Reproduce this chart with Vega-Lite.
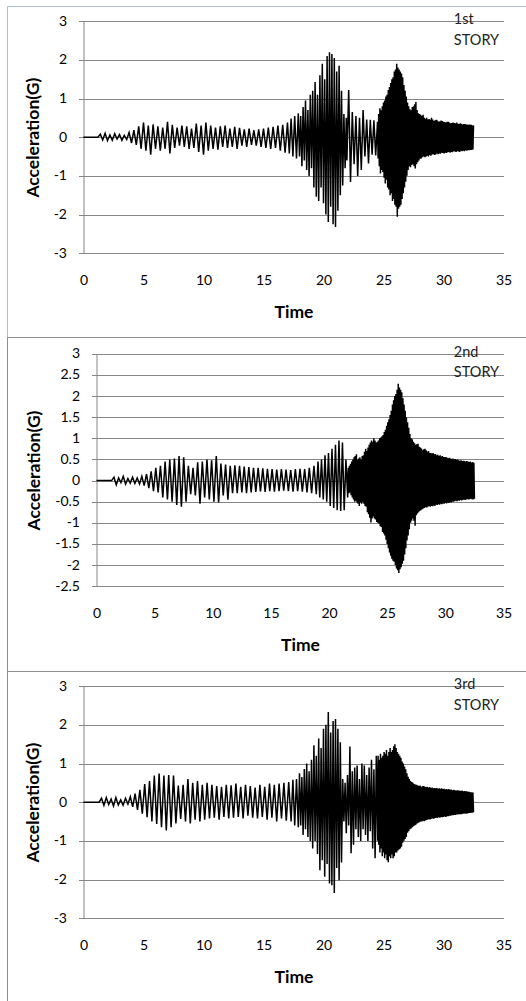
{
"$schema": "https://vega.github.io/schema/vega-lite/v6.json",
"background": "white",
"padding": {"left": 6, "top": 5, "right": 0, "bottom": 0},
"spacing": 0,
"bounds": "flush",
"config": {
  "font": "Lato",
  "axis": {"labelFont": "Lato", "labelFontSize": 14, "labelColor": "#000000", "titleFont": "Lato", "titleFontSize": 17.5, "titleFontWeight": "bold", "titleColor": "#000000", "gridColor": "#868686", "domainColor": "#868686", "tickColor": "#868686", "labelOverlap": false},
  "axisX": {"grid": false, "domain": false, "ticks": false, "tickSize": 0, "labelPadding": 20, "titlePadding": 16, "labelFlush": false, "tickCount": 20},
  "axisY": {"grid": true, "domain": true, "ticks": true, "tickSize": 5, "labelPadding": 12, "titlePadding": 11, "tickCount": 20}
},
"datasets": {
"p1": [{"t":0,"a":0},{"t":1.2,"a":0},{"t":1.4,"a":0.08},{"t":1.6,"a":-0.07},{"t":1.8,"a":0.1},{"t":2,"a":-0.09},{"t":2.2,"a":0.06},{"t":2.4,"a":-0.08},{"t":2.6,"a":0.09},{"t":2.8,"a":-0.05},{"t":3,"a":0.07},{"t":3.2,"a":-0.08},{"t":3.4,"a":0.05},{"t":3.6,"a":-0.06},{"t":3.8,"a":0.12},{"t":4,"a":-0.15},{"t":4.2,"a":0.18},{"t":4.4,"a":-0.2},{"t":4.6,"a":0.28},{"t":4.8,"a":-0.3},{"t":5,"a":0.38},{"t":5.2,"a":-0.35},{"t":5.4,"a":0.3},{"t":5.6,"a":-0.45},{"t":5.8,"a":0.33},{"t":6,"a":-0.3},{"t":6.2,"a":0.28},{"t":6.4,"a":-0.35},{"t":6.6,"a":0.25},{"t":6.8,"a":-0.3},{"t":7,"a":0.4},{"t":7.2,"a":-0.42},{"t":7.4,"a":0.32},{"t":7.6,"a":-0.28},{"t":7.8,"a":0.25},{"t":8,"a":-0.22},{"t":8.2,"a":0.3},{"t":8.4,"a":-0.25},{"t":8.6,"a":0.28},{"t":8.8,"a":-0.3},{"t":9,"a":0.22},{"t":9.2,"a":-0.28},{"t":9.4,"a":0.35},{"t":9.6,"a":-0.38},{"t":9.8,"a":0.3},{"t":10,"a":-0.45},{"t":10.2,"a":0.38},{"t":10.4,"a":-0.35},{"t":10.6,"a":0.3},{"t":10.8,"a":-0.3},{"t":11,"a":0.25},{"t":11.2,"a":-0.32},{"t":11.4,"a":0.28},{"t":11.6,"a":-0.25},{"t":11.8,"a":0.3},{"t":12,"a":-0.28},{"t":12.2,"a":0.22},{"t":12.4,"a":-0.25},{"t":12.6,"a":0.27},{"t":12.8,"a":-0.3},{"t":13,"a":0.24},{"t":13.2,"a":-0.22},{"t":13.4,"a":0.2},{"t":13.6,"a":-0.25},{"t":13.8,"a":0.22},{"t":14,"a":-0.2},{"t":14.2,"a":0.18},{"t":14.4,"a":-0.22},{"t":14.6,"a":0.2},{"t":14.8,"a":-0.25},{"t":15,"a":0.22},{"t":15.2,"a":-0.28},{"t":15.4,"a":0.25},{"t":15.6,"a":-0.3},{"t":15.8,"a":0.27},{"t":16,"a":-0.28},{"t":16.2,"a":0.3},{"t":16.4,"a":-0.35},{"t":16.6,"a":0.32},{"t":16.8,"a":-0.4},{"t":17,"a":0.38},{"t":17.15,"a":-0.42},{"t":17.3,"a":0.48},{"t":17.45,"a":-0.5},{"t":17.6,"a":0.55},{"t":17.75,"a":-0.55},
{"t":17.9,"a":0.62},{"t":18,"a":-0.5},{"t":18.1,"a":0.55},{"t":18.2,"a":-0.75},{"t":18.3,"a":0.78},{"t":18.4,"a":-0.6},{"t":18.5,"a":0.95},{"t":18.6,"a":-0.85},{"t":18.7,"a":0.7},{"t":18.8,"a":-1.0},{"t":18.9,"a":1.1},{"t":19,"a":-0.8},{"t":19.1,"a":1.2},{"t":19.2,"a":-1.3},{"t":19.3,"a":1.43},{"t":19.4,"a":-1.54},{"t":19.5,"a":1.1},{"t":19.6,"a":-1.65},{"t":19.7,"a":1.6},{"t":19.8,"a":-1.3},{"t":19.9,"a":1.9},{"t":20,"a":-1.71},{"t":20.1,"a":1.5},{"t":20.2,"a":-2.0},{"t":20.3,"a":2.1},{"t":20.4,"a":-2.19},{"t":20.5,"a":2.2},{"t":20.6,"a":-1.8},{"t":20.7,"a":2.15},{"t":20.8,"a":-2.25},{"t":20.9,"a":2.05},{"t":21,"a":-2.32},{"t":21.1,"a":1.7},{"t":21.2,"a":-1.9},{"t":21.3,"a":1.85},{"t":21.4,"a":-1.5},{"t":21.5,"a":1.2},{"t":21.6,"a":-1.25},{"t":21.7,"a":0.6},{"t":21.8,"a":-0.8},{"t":21.9,"a":0.5},
{"t":21.95,"a":-0.6},{"t":22.1,"a":1.22},{"t":22.25,"a":-1.16},{"t":22.4,"a":0.65},{"t":22.55,"a":-0.7},{"t":22.7,"a":0.55},{"t":22.85,"a":-1.0},{"t":23,"a":0.5},{"t":23.15,"a":-0.85},{"t":23.3,"a":0.7},{"t":23.45,"a":-0.5},{"t":23.6,"a":0.46},{"t":23.75,"a":-0.68},{"t":23.9,"a":0.45},{"t":24.05,"a":-0.45},{"t":24.2,"a":0.44},{"t":24.35,"a":-0.47},{"t":24.5,"a":0.4},
{"t":24.55,"a":-0.55},{"t":24.6,"a":0.6},{"t":24.65,"a":-0.75},{"t":24.7,"a":0.75},{"t":24.75,"a":-0.94},{"t":24.8,"a":0.7},{"t":24.85,"a":-0.85},{"t":24.9,"a":0.8},{"t":24.95,"a":-0.9},{"t":25,"a":0.9},{"t":25.05,"a":-1.05},{"t":25.1,"a":0.95},{"t":25.15,"a":-1.2},{"t":25.2,"a":1.05},{"t":25.25,"a":-1.1},{"t":25.3,"a":1.1},{"t":25.35,"a":-1.3},{"t":25.4,"a":1.22},{"t":25.45,"a":-1.35},{"t":25.5,"a":1.3},{"t":25.55,"a":-1.5},{"t":25.6,"a":1.4},{"t":25.65,"a":-1.45},{"t":25.7,"a":1.5},{"t":25.75,"a":-1.65},{"t":25.8,"a":1.55},{"t":25.85,"a":-1.6},{"t":25.9,"a":1.7},{"t":25.95,"a":-1.75},{"t":26,"a":1.75},{"t":26.05,"a":-1.8},{"t":26.1,"a":1.9},{"t":26.15,"a":-2.06},{"t":26.2,"a":1.8},{"t":26.25,"a":-1.85},{"t":26.3,"a":1.75},{"t":26.35,"a":-1.8},{"t":26.4,"a":1.7},{"t":26.45,"a":-1.75},{"t":26.5,"a":1.65},{"t":26.55,"a":-1.6},{"t":26.6,"a":1.55},{"t":26.65,"a":-1.45},{"t":26.7,"a":1.35},{"t":26.75,"a":-1.3},{"t":26.8,"a":1.2},{"t":26.85,"a":-1.15},{"t":26.9,"a":1.05},{"t":26.95,"a":-1.0},{"t":27,"a":0.9},{"t":27.05,"a":-0.85},{"t":27.1,"a":0.8},{"t":27.15,"a":-0.75},{"t":27.2,"a":0.72},{"t":27.25,"a":-0.78},{"t":27.3,"a":0.7},{"t":27.35,"a":-0.72},{"t":27.4,"a":0.78},{"t":27.45,"a":-0.7},{"t":27.5,"a":0.8},{"t":27.55,"a":-0.75},{"t":27.6,"a":0.85},{"t":27.65,"a":-0.81},{"t":27.7,"a":0.91},{"t":27.75,"a":-0.7},{"t":27.8,"a":0.7},{"t":27.85,"a":-0.65},{"t":27.9,"a":0.62},{"t":27.95,"a":-0.6},{"t":28,"a":0.6},{"t":28.05,"a":-0.56},{"t":28.1,"a":0.58},{"t":28.15,"a":-0.55},{"t":28.2,"a":0.55},{"t":28.25,"a":-0.52},{"t":28.3,"a":0.58},{"t":28.35,"a":-0.5},{"t":28.4,"a":0.5},{"t":28.45,"a":-0.52},{"t":28.5,"a":0.48},{"t":28.55,"a":-0.5},{"t":28.6,"a":0.5},{"t":28.65,"a":-0.48},{"t":28.7,"a":0.46},{"t":28.75,"a":-0.5},{"t":28.8,"a":0.47},{"t":28.85,"a":-0.46},{"t":28.9,"a":0.45},{"t":28.95,"a":-0.48},{"t":29,"a":0.5},{"t":29.05,"a":-0.45},{"t":29.1,"a":0.46},{"t":29.15,"a":-0.44},{"t":29.2,"a":0.42},{"t":29.25,"a":-0.46},{"t":29.3,"a":0.44},{"t":29.35,"a":-0.45},{"t":29.4,"a":0.45},{"t":29.45,"a":-0.42},{"t":29.5,"a":0.43},{"t":29.55,"a":-0.44},{"t":29.6,"a":0.4},{"t":29.65,"a":-0.42},{"t":29.7,"a":0.41},{"t":29.75,"a":-0.43},{"t":29.8,"a":0.43},{"t":29.85,"a":-0.4},{"t":29.9,"a":0.42},{"t":29.95,"a":-0.41},{"t":30,"a":0.4},{"t":30.05,"a":-0.42},{"t":30.1,"a":0.39},{"t":30.15,"a":-0.4},{"t":30.2,"a":0.38},{"t":30.25,"a":-0.41},{"t":30.3,"a":0.4},{"t":30.35,"a":-0.39},{"t":30.4,"a":0.4},{"t":30.45,"a":-0.38},{"t":30.5,"a":0.38},{"t":30.55,"a":-0.4},{"t":30.6,"a":0.36},{"t":30.65,"a":-0.38},{"t":30.7,"a":0.37},{"t":30.75,"a":-0.39},{"t":30.8,"a":0.38},{"t":30.85,"a":-0.36},{"t":30.9,"a":0.37},{"t":30.95,"a":-0.37},{"t":31,"a":0.36},{"t":31.05,"a":-0.38},{"t":31.1,"a":0.38},{"t":31.15,"a":-0.36},{"t":31.2,"a":0.35},{"t":31.25,"a":-0.37},{"t":31.3,"a":0.34},{"t":31.35,"a":-0.38},{"t":31.4,"a":0.36},{"t":31.45,"a":-0.35},{"t":31.5,"a":0.35},{"t":31.55,"a":-0.36},{"t":31.6,"a":0.33},{"t":31.65,"a":-0.35},{"t":31.7,"a":0.34},{"t":31.75,"a":-0.36},{"t":31.8,"a":0.34},{"t":31.85,"a":-0.34},{"t":31.9,"a":0.33},{"t":31.95,"a":-0.35},{"t":32,"a":0.33},{"t":32.05,"a":-0.34},{"t":32.1,"a":0.32},{"t":32.15,"a":-0.34},{"t":32.2,"a":0.33},{"t":32.25,"a":-0.33},{"t":32.3,"a":0.32},{"t":32.35,"a":-0.33},{"t":32.4,"a":0.31},{"t":32.45,"a":-0.32},{"t":32.5,"a":0.3}],
"p2": [{"t":0,"a":0},{"t":1.3,"a":0},{"t":1.5,"a":0.08},{"t":1.7,"a":-0.1},{"t":1.9,"a":0.06},{"t":2.1,"a":-0.05},{"t":2.3,"a":0.1},{"t":2.5,"a":-0.08},{"t":2.7,"a":0.05},{"t":2.9,"a":-0.06},{"t":3.1,"a":0.08},{"t":3.3,"a":-0.07},{"t":3.5,"a":0.06},{"t":3.7,"a":-0.08},{"t":3.9,"a":0.1},{"t":4.1,"a":-0.12},{"t":4.3,"a":0.15},{"t":4.5,"a":-0.18},{"t":4.7,"a":0.22},{"t":4.9,"a":-0.25},{"t":5.1,"a":0.3},{"t":5.3,"a":-0.28},{"t":5.5,"a":0.35},{"t":5.7,"a":-0.4},{"t":5.9,"a":0.45},{"t":6.1,"a":-0.45},{"t":6.3,"a":0.5},{"t":6.5,"a":-0.5},{"t":6.7,"a":0.52},{"t":6.9,"a":-0.58},{"t":7.1,"a":0.58},{"t":7.3,"a":-0.62},{"t":7.5,"a":0.55},{"t":7.7,"a":-0.5},{"t":7.9,"a":0.35},{"t":8.1,"a":-0.32},{"t":8.3,"a":0.3},{"t":8.5,"a":-0.35},{"t":8.7,"a":0.43},{"t":8.9,"a":-0.55},{"t":9.1,"a":0.45},{"t":9.3,"a":-0.4},{"t":9.5,"a":0.5},{"t":9.7,"a":-0.45},{"t":9.9,"a":0.48},{"t":10.1,"a":-0.5},{"t":10.3,"a":0.58},{"t":10.5,"a":-0.52},{"t":10.7,"a":0.4},{"t":10.9,"a":-0.35},{"t":11.1,"a":0.38},{"t":11.3,"a":-0.45},{"t":11.5,"a":0.35},{"t":11.7,"a":-0.3},{"t":11.9,"a":0.36},{"t":12.1,"a":-0.3},{"t":12.3,"a":0.35},{"t":12.5,"a":-0.28},{"t":12.7,"a":0.33},{"t":12.9,"a":-0.3},{"t":13.1,"a":0.32},{"t":13.3,"a":-0.28},{"t":13.5,"a":0.3},{"t":13.7,"a":-0.27},{"t":13.9,"a":0.3},{"t":14.1,"a":-0.26},{"t":14.3,"a":0.29},{"t":14.5,"a":-0.27},{"t":14.7,"a":0.28},{"t":14.9,"a":-0.25},{"t":15.1,"a":0.27},{"t":15.3,"a":-0.26},{"t":15.5,"a":0.26},{"t":15.7,"a":-0.25},{"t":15.9,"a":0.27},{"t":16.1,"a":-0.24},{"t":16.3,"a":0.26},{"t":16.5,"a":-0.25},{"t":16.7,"a":0.25},{"t":16.9,"a":-0.26},{"t":17.1,"a":0.27},{"t":17.3,"a":-0.25},{"t":17.5,"a":0.28},{"t":17.7,"a":-0.26},{"t":17.9,"a":0.27},{"t":18.1,"a":-0.28},{"t":18.3,"a":0.3},{"t":18.5,"a":-0.3},{"t":18.7,"a":0.35},{"t":18.9,"a":-0.32},{"t":19.05,"a":0.45},{"t":19.2,"a":-0.4},{"t":19.35,"a":0.5},{"t":19.5,"a":-0.45},{"t":19.65,"a":0.6},{"t":19.8,"a":-0.5},{"t":19.95,"a":0.65},{"t":20.1,"a":-0.6},{"t":20.25,"a":0.75},{"t":20.4,"a":-0.65},{"t":20.55,"a":0.85},{"t":20.7,"a":-0.7},{"t":20.85,"a":0.95},{"t":21,"a":-0.72},{"t":21.15,"a":0.9},{"t":21.3,"a":-0.7},{"t":21.45,"a":0.5},{"t":21.6,"a":-0.4},
{"t":21.65,"a":0.3},{"t":21.7,"a":-0.3},{"t":21.75,"a":0.35},{"t":21.8,"a":-0.28},{"t":21.85,"a":0.4},{"t":21.9,"a":-0.35},{"t":21.95,"a":0.45},{"t":22,"a":-0.4},{"t":22.05,"a":0.5},{"t":22.1,"a":-0.45},{"t":22.15,"a":0.55},{"t":22.2,"a":-0.5},{"t":22.25,"a":0.58},{"t":22.3,"a":-0.48},{"t":22.35,"a":0.62},{"t":22.4,"a":-0.52},{"t":22.45,"a":0.5},{"t":22.5,"a":-0.55},{"t":22.55,"a":0.52},{"t":22.6,"a":-0.6},{"t":22.65,"a":0.55},{"t":22.7,"a":-0.52},{"t":22.75,"a":0.5},{"t":22.8,"a":-0.55},{"t":22.85,"a":0.58},{"t":22.9,"a":-0.5},{"t":22.95,"a":0.6},{"t":23,"a":-0.55},{"t":23.05,"a":0.68},{"t":23.1,"a":-0.6},{"t":23.15,"a":0.75},{"t":23.2,"a":-0.62},{"t":23.25,"a":0.7},{"t":23.3,"a":-0.75},{"t":23.35,"a":0.78},{"t":23.4,"a":-0.8},{"t":23.45,"a":0.85},{"t":23.5,"a":-0.88},{"t":23.55,"a":0.9},{"t":23.6,"a":-0.99},{"t":23.65,"a":0.95},{"t":23.7,"a":-0.9},{"t":23.75,"a":0.92},{"t":23.8,"a":-0.85},{"t":23.85,"a":1.0},{"t":23.9,"a":-0.9},{"t":23.95,"a":0.95},{"t":24,"a":-0.92},{"t":24.05,"a":0.9},{"t":24.1,"a":-0.98},{"t":24.15,"a":0.92},{"t":24.2,"a":-1.0},{"t":24.25,"a":0.95},{"t":24.3,"a":-1.02},{"t":24.35,"a":1.0},{"t":24.4,"a":-1.08},{"t":24.45,"a":1.02},{"t":24.5,"a":-1.1},{"t":24.55,"a":1.05},{"t":24.6,"a":-1.22},{"t":24.65,"a":1.08},{"t":24.7,"a":-1.25},{"t":24.75,"a":1.15},{"t":24.8,"a":-1.3},{"t":24.85,"a":1.2},{"t":24.9,"a":-1.4},{"t":24.95,"a":1.3},{"t":25,"a":-1.5},{"t":25.05,"a":1.38},{"t":25.1,"a":-1.6},{"t":25.15,"a":1.45},{"t":25.2,"a":-1.7},{"t":25.25,"a":1.55},{"t":25.3,"a":-1.78},{"t":25.35,"a":1.65},{"t":25.4,"a":-1.85},{"t":25.45,"a":1.8},{"t":25.5,"a":-1.9},{"t":25.55,"a":1.9},{"t":25.6,"a":-1.92},{"t":25.65,"a":2.0},{"t":25.7,"a":-2.0},{"t":25.75,"a":2.05},{"t":25.8,"a":-2.08},{"t":25.85,"a":2.15},{"t":25.9,"a":-2.12},{"t":25.95,"a":2.29},{"t":26,"a":-2.19},{"t":26.05,"a":2.2},{"t":26.1,"a":-2.1},{"t":26.15,"a":2.15},{"t":26.2,"a":-2.05},{"t":26.25,"a":2.09},{"t":26.3,"a":-1.97},{"t":26.35,"a":1.95},{"t":26.4,"a":-1.9},{"t":26.45,"a":1.8},{"t":26.5,"a":-1.75},{"t":26.55,"a":1.65},{"t":26.6,"a":-1.6},{"t":26.65,"a":1.5},{"t":26.7,"a":-1.42},{"t":26.75,"a":1.38},{"t":26.8,"a":-1.3},{"t":26.85,"a":1.25},{"t":26.9,"a":-1.15},{"t":26.95,"a":1.1},{"t":27,"a":-1.0},{"t":27.05,"a":1.0},{"t":27.1,"a":-0.95},{"t":27.15,"a":0.98},{"t":27.2,"a":-0.9},{"t":27.25,"a":0.92},{"t":27.3,"a":-0.95},{"t":27.35,"a":0.88},{"t":27.4,"a":-1.07},{"t":27.45,"a":0.85},{"t":27.5,"a":-0.82},{"t":27.55,"a":0.86},{"t":27.6,"a":-0.78},{"t":27.65,"a":0.87},{"t":27.7,"a":-0.75},{"t":27.75,"a":0.8},{"t":27.8,"a":-0.72},{"t":27.85,"a":0.78},{"t":27.9,"a":-0.7},{"t":27.95,"a":0.76},{"t":28,"a":-0.68},{"t":28.05,"a":0.72},{"t":28.1,"a":-0.66},{"t":28.15,"a":0.74},{"t":28.2,"a":-0.65},{"t":28.25,"a":0.75},{"t":28.3,"a":-0.63},{"t":28.35,"a":0.72},{"t":28.4,"a":-0.64},{"t":28.45,"a":0.68},{"t":28.5,"a":-0.62},{"t":28.55,"a":0.7},{"t":28.6,"a":-0.6},{"t":28.65,"a":0.66},{"t":28.7,"a":-0.62},{"t":28.75,"a":0.65},{"t":28.8,"a":-0.6},{"t":28.85,"a":0.64},{"t":28.9,"a":-0.61},{"t":28.95,"a":0.65},{"t":29,"a":-0.59},{"t":29.05,"a":0.62},{"t":29.1,"a":-0.6},{"t":29.15,"a":0.63},{"t":29.2,"a":-0.57},{"t":29.25,"a":0.6},{"t":29.3,"a":-0.58},{"t":29.35,"a":0.61},{"t":29.4,"a":-0.56},{"t":29.45,"a":0.58},{"t":29.5,"a":-0.57},{"t":29.55,"a":0.6},{"t":29.6,"a":-0.55},{"t":29.65,"a":0.57},{"t":29.7,"a":-0.56},{"t":29.75,"a":0.58},{"t":29.8,"a":-0.54},{"t":29.85,"a":0.56},{"t":29.9,"a":-0.55},{"t":29.95,"a":0.55},{"t":30,"a":-0.53},{"t":30.05,"a":0.56},{"t":30.1,"a":-0.54},{"t":30.15,"a":0.54},{"t":30.2,"a":-0.52},{"t":30.25,"a":0.53},{"t":30.3,"a":-0.53},{"t":30.35,"a":0.54},{"t":30.4,"a":-0.51},{"t":30.45,"a":0.52},{"t":30.5,"a":-0.52},{"t":30.55,"a":0.51},{"t":30.6,"a":-0.5},{"t":30.65,"a":0.52},{"t":30.7,"a":-0.5},{"t":30.75,"a":0.5},{"t":30.8,"a":-0.49},{"t":30.85,"a":0.51},{"t":30.9,"a":-0.48},{"t":30.95,"a":0.49},{"t":31,"a":-0.49},{"t":31.05,"a":0.5},{"t":31.1,"a":-0.47},{"t":31.15,"a":0.48},{"t":31.2,"a":-0.48},{"t":31.25,"a":0.47},{"t":31.3,"a":-0.46},{"t":31.35,"a":0.48},{"t":31.4,"a":-0.47},{"t":31.45,"a":0.46},{"t":31.5,"a":-0.46},{"t":31.55,"a":0.47},{"t":31.6,"a":-0.45},{"t":31.65,"a":0.46},{"t":31.7,"a":-0.46},{"t":31.75,"a":0.45},{"t":31.8,"a":-0.45},{"t":31.85,"a":0.46},{"t":31.9,"a":-0.44},{"t":31.95,"a":0.45},{"t":32,"a":-0.45},{"t":32.05,"a":0.44},{"t":32.1,"a":-0.44},{"t":32.15,"a":0.45},{"t":32.2,"a":-0.43},{"t":32.25,"a":0.43},{"t":32.3,"a":-0.44},{"t":32.35,"a":0.44},{"t":32.4,"a":-0.45},{"t":32.45,"a":0.42},{"t":32.5,"a":-0.43}],
"p3": [{"t":0,"a":0},{"t":1.3,"a":0},{"t":1.5,"a":0.1},{"t":1.7,"a":-0.08},{"t":1.9,"a":0.12},{"t":2.1,"a":-0.06},{"t":2.3,"a":0.08},{"t":2.5,"a":-0.1},{"t":2.7,"a":0.12},{"t":2.9,"a":-0.07},{"t":3.1,"a":0.06},{"t":3.3,"a":-0.08},{"t":3.5,"a":0.1},{"t":3.7,"a":-0.05},{"t":3.9,"a":0.14},{"t":4.1,"a":-0.12},{"t":4.3,"a":0.22},{"t":4.5,"a":-0.2},{"t":4.7,"a":0.32},{"t":4.9,"a":-0.3},{"t":5.1,"a":0.47},{"t":5.3,"a":-0.39},{"t":5.5,"a":0.55},{"t":5.7,"a":-0.5},{"t":5.9,"a":0.69},{"t":6.1,"a":-0.56},{"t":6.3,"a":0.74},{"t":6.5,"a":-0.65},{"t":6.7,"a":0.69},{"t":6.9,"a":-0.73},{"t":7.1,"a":0.7},{"t":7.3,"a":-0.65},{"t":7.5,"a":0.69},{"t":7.7,"a":-0.55},{"t":7.9,"a":0.43},{"t":8.1,"a":-0.43},{"t":8.3,"a":0.45},{"t":8.5,"a":-0.5},{"t":8.7,"a":0.6},{"t":8.9,"a":-0.55},{"t":9.1,"a":0.5},{"t":9.3,"a":-0.45},{"t":9.5,"a":0.55},{"t":9.7,"a":-0.5},{"t":9.9,"a":0.45},{"t":10.1,"a":-0.45},{"t":10.3,"a":0.5},{"t":10.5,"a":-0.42},{"t":10.7,"a":0.45},{"t":10.9,"a":-0.4},{"t":11.1,"a":0.42},{"t":11.3,"a":-0.45},{"t":11.5,"a":0.4},{"t":11.7,"a":-0.38},{"t":11.9,"a":0.45},{"t":12.1,"a":-0.42},{"t":12.3,"a":0.44},{"t":12.5,"a":-0.4},{"t":12.7,"a":0.48},{"t":12.9,"a":-0.38},{"t":13.1,"a":0.4},{"t":13.3,"a":-0.42},{"t":13.5,"a":0.45},{"t":13.7,"a":-0.35},{"t":13.9,"a":0.42},{"t":14.1,"a":-0.4},{"t":14.3,"a":0.38},{"t":14.5,"a":-0.42},{"t":14.7,"a":0.45},{"t":14.9,"a":-0.38},{"t":15.1,"a":0.4},{"t":15.3,"a":-0.45},{"t":15.5,"a":0.48},{"t":15.7,"a":-0.4},{"t":15.9,"a":0.45},{"t":16.1,"a":-0.5},{"t":16.3,"a":0.48},{"t":16.5,"a":-0.42},{"t":16.7,"a":0.5},{"t":16.9,"a":-0.48},{"t":17.1,"a":0.52},{"t":17.3,"a":-0.5},{"t":17.45,"a":0.58},{"t":17.6,"a":-0.6},{"t":17.75,"a":0.6},{"t":17.9,"a":-0.65},
{"t":18,"a":0.75},{"t":18.1,"a":-0.6},{"t":18.2,"a":0.65},{"t":18.3,"a":-0.85},{"t":18.4,"a":0.86},{"t":18.5,"a":-0.7},{"t":18.6,"a":1.0},{"t":18.7,"a":-0.9},{"t":18.8,"a":0.8},{"t":18.9,"a":-1.0},{"t":19,"a":1.1},{"t":19.1,"a":-1.2},{"t":19.2,"a":1.47},{"t":19.3,"a":-1.0},{"t":19.4,"a":1.2},{"t":19.5,"a":-1.34},{"t":19.6,"a":1.65},{"t":19.7,"a":-1.76},{"t":19.8,"a":1.4},{"t":19.9,"a":-1.5},{"t":20,"a":1.9},{"t":20.1,"a":-1.93},{"t":20.2,"a":2.0},{"t":20.3,"a":-1.6},{"t":20.4,"a":2.33},{"t":20.5,"a":-2.1},{"t":20.6,"a":1.8},{"t":20.7,"a":-2.15},{"t":20.8,"a":2.1},{"t":20.9,"a":-2.35},{"t":21,"a":2.15},{"t":21.1,"a":-1.7},{"t":21.2,"a":1.9},{"t":21.3,"a":-2.02},{"t":21.4,"a":1.55},{"t":21.5,"a":-1.56},{"t":21.6,"a":0.6},{"t":21.7,"a":-0.5},{"t":21.8,"a":0.5},{"t":21.9,"a":-0.8},{"t":22,"a":0.7},{"t":22.1,"a":-0.6},{"t":22.2,"a":1.44},{"t":22.3,"a":-1.32},{"t":22.4,"a":0.8},{"t":22.5,"a":-1.1},{"t":22.6,"a":0.9},{"t":22.7,"a":-0.7},{"t":22.8,"a":0.95},{"t":22.9,"a":-0.9},{"t":23,"a":0.6},{"t":23.1,"a":-1.0},{"t":23.2,"a":1.0},{"t":23.3,"a":-0.7},{"t":23.4,"a":0.95},{"t":23.5,"a":-0.85},{"t":23.6,"a":0.7},{"t":23.7,"a":-1.0},{"t":23.8,"a":0.9},{"t":23.9,"a":-0.75},{"t":24,"a":1.1},{"t":24.1,"a":-1.2},{"t":24.2,"a":0.85},{"t":24.3,"a":-1.45},{"t":24.4,"a":1.2},{"t":24.5,"a":-1.0},
{"t":24.55,"a":1.2},{"t":24.6,"a":-1.1},{"t":24.65,"a":1.1},{"t":24.7,"a":-1.3},{"t":24.75,"a":1.25},{"t":24.8,"a":-1.2},{"t":24.85,"a":1.15},{"t":24.9,"a":-1.4},{"t":24.95,"a":1.2},{"t":25,"a":-1.3},{"t":25.05,"a":1.3},{"t":25.1,"a":-1.45},{"t":25.15,"a":1.25},{"t":25.2,"a":-1.35},{"t":25.25,"a":1.35},{"t":25.3,"a":-1.5},{"t":25.35,"a":1.2},{"t":25.4,"a":-1.55},{"t":25.45,"a":1.3},{"t":25.5,"a":-1.4},{"t":25.55,"a":1.4},{"t":25.6,"a":-1.45},{"t":25.65,"a":1.3},{"t":25.7,"a":-1.35},{"t":25.75,"a":1.35},{"t":25.8,"a":-1.45},{"t":25.85,"a":1.45},{"t":25.9,"a":-1.4},{"t":25.95,"a":1.5},{"t":26,"a":-1.3},{"t":26.05,"a":1.4},{"t":26.1,"a":-1.3},{"t":26.15,"a":1.3},{"t":26.2,"a":-1.25},{"t":26.25,"a":1.25},{"t":26.3,"a":-1.22},{"t":26.35,"a":1.2},{"t":26.4,"a":-1.2},{"t":26.45,"a":1.15},{"t":26.5,"a":-1.15},{"t":26.55,"a":1.05},{"t":26.6,"a":-1.05},{"t":26.65,"a":1.0},{"t":26.7,"a":-1.0},{"t":26.75,"a":0.92},{"t":26.8,"a":-0.95},{"t":26.85,"a":0.85},{"t":26.9,"a":-0.9},{"t":26.95,"a":0.75},{"t":27,"a":-0.79},{"t":27.05,"a":0.66},{"t":27.1,"a":-0.75},{"t":27.15,"a":0.6},{"t":27.2,"a":-0.7},{"t":27.25,"a":0.55},{"t":27.3,"a":-0.68},{"t":27.35,"a":0.52},{"t":27.4,"a":-0.65},{"t":27.45,"a":0.5},{"t":27.5,"a":-0.62},{"t":27.55,"a":0.47},{"t":27.6,"a":-0.6},{"t":27.65,"a":0.46},{"t":27.7,"a":-0.58},{"t":27.75,"a":0.45},{"t":27.8,"a":-0.55},{"t":27.85,"a":0.44},{"t":27.9,"a":-0.53},{"t":27.95,"a":0.42},{"t":28,"a":-0.52},{"t":28.05,"a":0.43},{"t":28.1,"a":-0.5},{"t":28.15,"a":0.4},{"t":28.2,"a":-0.5},{"t":28.25,"a":0.41},{"t":28.3,"a":-0.48},{"t":28.35,"a":0.42},{"t":28.4,"a":-0.49},{"t":28.45,"a":0.4},{"t":28.5,"a":-0.47},{"t":28.55,"a":0.39},{"t":28.6,"a":-0.46},{"t":28.65,"a":0.4},{"t":28.7,"a":-0.45},{"t":28.75,"a":0.38},{"t":28.8,"a":-0.44},{"t":28.85,"a":0.39},{"t":28.9,"a":-0.45},{"t":28.95,"a":0.37},{"t":29,"a":-0.43},{"t":29.05,"a":0.38},{"t":29.1,"a":-0.42},{"t":29.15,"a":0.36},{"t":29.2,"a":-0.43},{"t":29.25,"a":0.37},{"t":29.3,"a":-0.41},{"t":29.35,"a":0.36},{"t":29.4,"a":-0.4},{"t":29.45,"a":0.37},{"t":29.5,"a":-0.41},{"t":29.55,"a":0.35},{"t":29.6,"a":-0.39},{"t":29.65,"a":0.36},{"t":29.7,"a":-0.4},{"t":29.75,"a":0.35},{"t":29.8,"a":-0.38},{"t":29.85,"a":0.36},{"t":29.9,"a":-0.39},{"t":29.95,"a":0.34},{"t":30,"a":-0.38},{"t":30.05,"a":0.35},{"t":30.1,"a":-0.37},{"t":30.15,"a":0.33},{"t":30.2,"a":-0.38},{"t":30.25,"a":0.34},{"t":30.3,"a":-0.36},{"t":30.35,"a":0.33},{"t":30.4,"a":-0.36},{"t":30.45,"a":0.34},{"t":30.5,"a":-0.35},{"t":30.55,"a":0.32},{"t":30.6,"a":-0.35},{"t":30.65,"a":0.33},{"t":30.7,"a":-0.34},{"t":30.75,"a":0.31},{"t":30.8,"a":-0.34},{"t":30.85,"a":0.32},{"t":30.9,"a":-0.33},{"t":30.95,"a":0.31},{"t":31,"a":-0.33},{"t":31.05,"a":0.3},{"t":31.1,"a":-0.32},{"t":31.15,"a":0.31},{"t":31.2,"a":-0.32},{"t":31.25,"a":0.3},{"t":31.3,"a":-0.31},{"t":31.35,"a":0.3},{"t":31.4,"a":-0.31},{"t":31.45,"a":0.29},{"t":31.5,"a":-0.31},{"t":31.55,"a":0.3},{"t":31.6,"a":-0.3},{"t":31.65,"a":0.28},{"t":31.7,"a":-0.3},{"t":31.75,"a":0.29},{"t":31.8,"a":-0.29},{"t":31.85,"a":0.28},{"t":31.9,"a":-0.3},{"t":31.95,"a":0.28},{"t":32,"a":-0.29},{"t":32.05,"a":0.27},{"t":32.1,"a":-0.28},{"t":32.15,"a":0.27},{"t":32.2,"a":-0.28},{"t":32.25,"a":0.26},{"t":32.3,"a":-0.27},{"t":32.35,"a":0.26},{"t":32.4,"a":-0.27},{"t":32.45,"a":0.25},{"t":32.5,"a":-0.26}]
},
"vconcat": [
{
  "width": 519, "height": 331,
  "view": {"stroke": "#aebfd4", "strokeWidth": 1},
  "layer": [
    {"mark": {"type": "rule", "color": "#868686", "strokeWidth": 1},
     "encoding": {
       "x": {"datum": 0, "type": "quantitative", "scale": {"domain": [0, 35], "range": [76.5, 496.5], "nice": false, "zero": false}, "axis": {"values": [0,5,10,15,20,25,30,35], "title": "Time", "offset": -83.8}},
       "x2": {"datum": 35},
       "y": {"datum": 0, "type": "quantitative", "scale": {"domain": [-3, 3], "range": [247.2, 15.2], "nice": false, "zero": false}, "axis": {"values": [-3,-2,-1,0,1,2,3], "title": "Acceleration(G)", "offset": -76.5, "labelExpr": "'' + datum.value"}}
     }},
    {"data": {"name": "p1"}, "mark": {"type": "line", "color": "#000000", "strokeWidth": 1.5},
     "encoding": {"x": {"field": "t", "type": "quantitative"}, "y": {"field": "a", "type": "quantitative"}}},
    {"data": {"values": [{"t": 30.86, "a": 3.03, "label": "1st"}, {"t": 30.86, "a": 2.5, "label": "STORY"}]},
     "mark": {"type": "text", "align": "left", "baseline": "middle", "font": "Lato", "fontSize": 14.5, "color": "#222222"},
     "encoding": {"x": {"field": "t", "type": "quantitative"}, "y": {"field": "a", "type": "quantitative"}, "text": {"field": "label"}}}
  ]
},
{
  "width": 519, "height": 334,
  "view": {"stroke": "#8f8f8f", "strokeWidth": 1},
  "layer": [
    {"mark": {"type": "rule", "color": "#868686", "strokeWidth": 1},
     "encoding": {
       "x": {"datum": 0, "type": "quantitative", "scale": {"domain": [0, 35], "range": [89.5, 496.5], "nice": false, "zero": false}, "axis": {"values": [0,5,10,15,20,25,30,35], "title": "Time", "offset": -84.8}},
       "x2": {"datum": 35},
       "y": {"datum": 0, "type": "quantitative", "scale": {"domain": [-2.5, 3], "range": [249.2, 16.8], "nice": false, "zero": false}, "axis": {"values": [-2.5,-2,-1.5,-1,-0.5,0,0.5,1,1.5,2,2.5,3], "tickCount": 24, "title": "Acceleration(G)", "offset": -89.5, "labelExpr": "'' + datum.value"}}
     }},
    {"data": {"name": "p2"}, "mark": {"type": "line", "color": "#000000", "strokeWidth": 1.5},
     "encoding": {"x": {"field": "t", "type": "quantitative"}, "y": {"field": "a", "type": "quantitative"}}},
    {"data": {"values": [{"t": 30.73, "a": 3.02, "label": "2nd"}, {"t": 30.73, "a": 2.54, "label": "STORY"}]},
     "mark": {"type": "text", "align": "left", "baseline": "middle", "font": "Lato", "fontSize": 14.5, "color": "#222222"},
     "encoding": {"x": {"field": "t", "type": "quantitative"}, "y": {"field": "a", "type": "quantitative"}, "text": {"field": "label"}}}
  ]
},
{
  "width": 519, "height": 330,
  "view": {"stroke": "#8f8f8f", "strokeWidth": 1},
  "layer": [
    {"mark": {"type": "rule", "color": "#868686", "strokeWidth": 1},
     "encoding": {
       "x": {"datum": 0, "type": "quantitative", "scale": {"domain": [0, 35], "range": [76.5, 496.5], "nice": false, "zero": false}, "axis": {"values": [0,5,10,15,20,25,30,35], "title": "Time", "offset": -82.8}},
       "x2": {"datum": 35},
       "y": {"datum": 0, "type": "quantitative", "scale": {"domain": [-3, 3], "range": [247.2, 15.2], "nice": false, "zero": false}, "axis": {"values": [-3,-2,-1,0,1,2,3], "title": "Acceleration(G)", "offset": -76.5, "labelExpr": "'' + datum.value"}}
     }},
    {"data": {"name": "p3"}, "mark": {"type": "line", "color": "#000000", "strokeWidth": 1.5},
     "encoding": {"x": {"field": "t", "type": "quantitative"}, "y": {"field": "a", "type": "quantitative"}}},
    {"data": {"values": [{"t": 30.86, "a": 3.04, "label": "3rd"}, {"t": 30.86, "a": 2.49, "label": "STORY"}]},
     "mark": {"type": "text", "align": "left", "baseline": "middle", "font": "Lato", "fontSize": 14.5, "color": "#222222"},
     "encoding": {"x": {"field": "t", "type": "quantitative"}, "y": {"field": "a", "type": "quantitative"}, "text": {"field": "label"}}}
  ]
}
]
}
